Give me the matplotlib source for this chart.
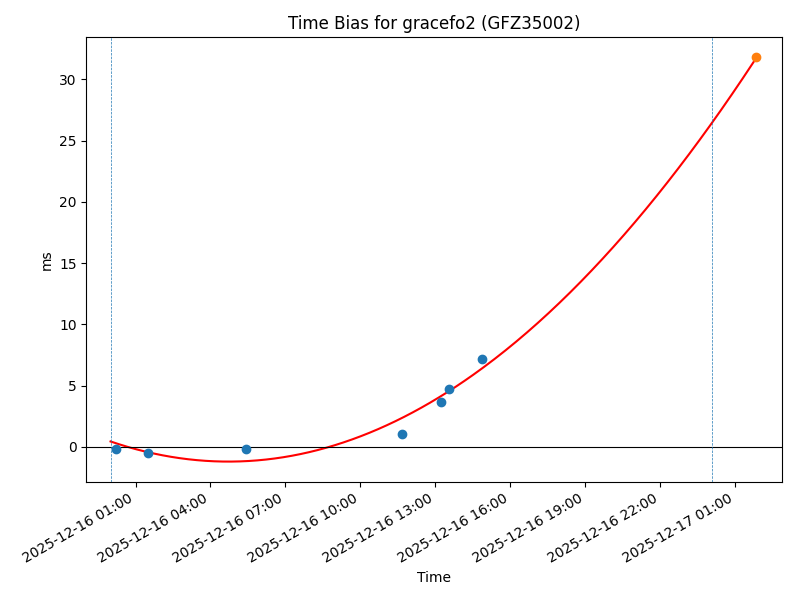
import numpy as np
import pandas as pd
import matplotlib
matplotlib.use("Agg")
import matplotlib.pyplot as plt
import matplotlib.dates as mdates

# observed time bias (ms)
obs_times = ["2025-12-16 00:14", "2025-12-16 01:31", "2025-12-16 05:26",
             "2025-12-16 11:41", "2025-12-16 13:14", "2025-12-16 13:34",
             "2025-12-16 14:53"]
obs_ms = [-0.16, -0.5, -0.16, 1.07, 3.7, 4.75, 7.2]

# predicted point
pred_time = "2025-12-17 01:50"
pred_ms = 31.8

# quadratic fit: a*(h - h0)**2 + c, h in hours from start
fit_start = "2025-12-16 00:00"
fit_end = "2025-12-17 01:50"
fit_a = 0.0738
fit_h0 = 4.72
fit_c = -1.2

# window markers
win_times = ["2025-12-16 00:02", "2025-12-17 00:05"]
xlims = ["2025-12-15 23:02", "2025-12-17 02:52"]

obs_t = pd.to_datetime(obs_times)
t0 = pd.Timestamp(fit_start)
fit_t = pd.date_range(fit_start, fit_end, periods=300)
h = (fit_t - t0) / pd.Timedelta(hours=1)
fit_ms = fit_a * (h - fit_h0) ** 2 + fit_c

fig, ax = plt.subplots(figsize=(8, 6), dpi=100)
ax.plot(fit_t, fit_ms, color='red')
ax.scatter(obs_t, obs_ms, color='C0', zorder=3)
ax.scatter([pd.Timestamp(pred_time)], [pred_ms], color='C1', zorder=3)
ax.axhline(0, color='black', lw=0.8)
for w in win_times:
    ax.axvline(pd.Timestamp(w), color='C0', ls='--', lw=0.5)

ax.set_xlim(pd.Timestamp(xlims[0]), pd.Timestamp(xlims[1]))
ax.xaxis.set_major_locator(mdates.HourLocator(byhour=range(1, 24, 3)))
ax.xaxis.set_major_formatter(mdates.DateFormatter('%Y-%m-%d %H:%M'))
ax.set_title("Time Bias for gracefo2 (GFZ35002)")
ax.set_xlabel("Time")
ax.set_ylabel("ms")
fig.autofmt_xdate()
fig.subplots_adjust(left=0.108, right=0.977, top=0.938, bottom=0.197)
fig.savefig("out.png")
